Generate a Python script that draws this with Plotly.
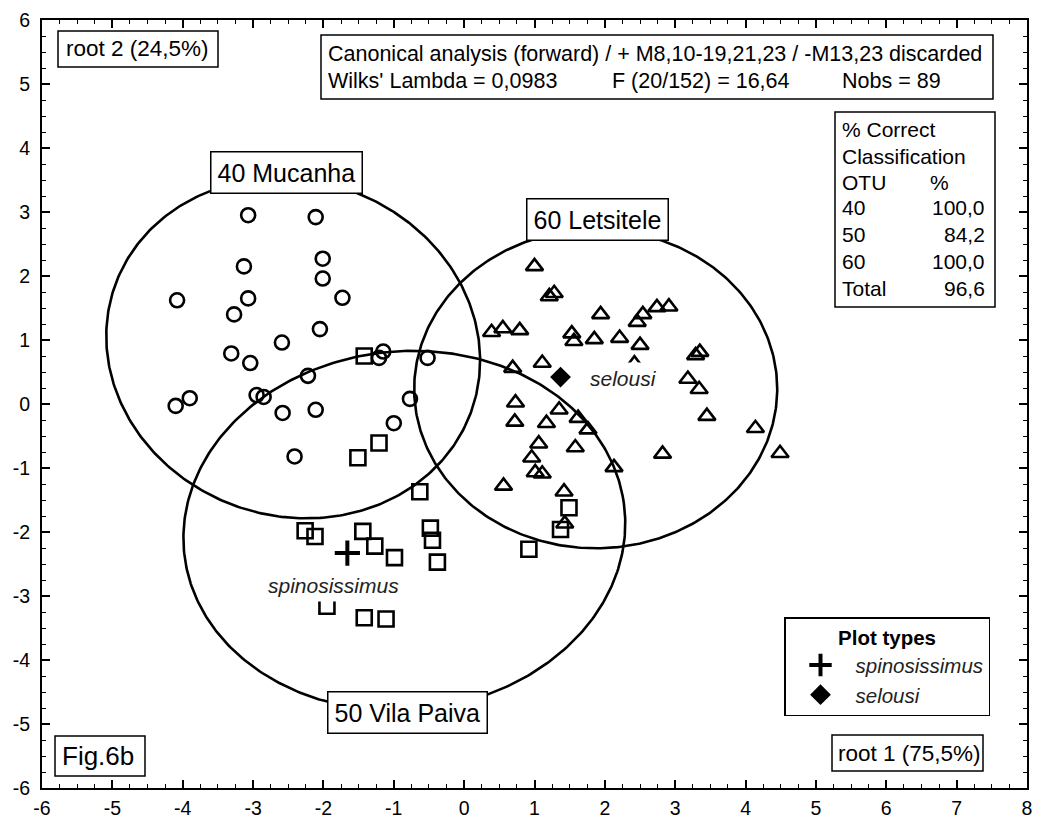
import numpy as np
import plotly.graph_objects as go

# ---------------- data ----------------
mucanha_x = [-3.07, -2.11, -2.01, -3.13, -2.01, -4.08, -3.07, -1.73, -3.27, -2.05, -2.59, -3.31, -3.04,
             -2.22, -3.90, -4.10, -2.95, -2.85, -2.58, -2.11, -2.41, -1.15, -1.21, -0.52, -0.77, -1.00]
mucanha_y = [2.95, 2.92, 2.27, 2.15, 1.96, 1.62, 1.65, 1.66, 1.40, 1.17, 0.96, 0.79, 0.64,
             0.44, 0.09, -0.03, 0.14, 0.11, -0.14, -0.09, -0.82, 0.82, 0.72, 0.72, 0.08, -0.30]

vila_x = [-1.42, -1.21, -1.51, -0.63, -2.26, -2.12, -1.44, -1.27, -0.99, -0.48, -0.45, -0.38,
          -1.95, -1.42, -1.11, 1.49, 1.37, 0.92]
vila_y = [0.75, -0.61, -0.84, -1.37, -1.98, -2.07, -1.99, -2.22, -2.40, -1.94, -2.13, -2.47,
          -3.16, -3.34, -3.36, -1.62, -1.96, -2.27]

lets_x = [1.00, 1.28, 1.21, 0.39, 0.55, 0.79, 1.94, 2.54, 2.46, 2.74, 2.91, 1.53, 1.56, 1.85,
          2.21, 2.50, 1.11, 0.69, 0.73, 0.72, 1.35, 1.17, 1.62, 1.76, 3.35, 3.29, 3.18, 3.34,
          3.45, 4.14, 4.49, 2.82, 1.06, 0.96, 1.01, 1.11, 1.58, 2.13, 0.56, 1.42, 1.43, 2.42]
lets_y = [2.15, 1.73, 1.68, 1.12, 1.18, 1.15, 1.40, 1.40, 1.28, 1.51, 1.52, 1.10, 0.98, 1.01,
          1.03, 0.92, 0.64, 0.56, 0.02, -0.28, -0.09, -0.30, -0.22, -0.40, 0.81, 0.76, 0.39, 0.23,
          -0.19, -0.38, -0.77, -0.78, -0.62, -0.84, -1.07, -1.09, -0.68, -0.99, -1.28, -1.37, -1.87, 0.63]

spin_x, spin_y = [-1.66], [-2.33]
sel_x, sel_y = [1.37], [0.42]

# ellipse parameters per group
group_names = ["40 Mucanha", "50 Vila Paiva", "60 Letsitele"]
ell_cx = [-2.43, -0.85, 1.87]
ell_cy = [0.87, -1.98, 0.235]
ell_a = [2.75, 3.15, 2.58]
ell_b = [2.56, 2.80, 2.49]
ell_angle = [-45, 10, 0]
label_x = [-2.52, -0.80, 1.90]
label_y = [3.62, -4.82, 2.89]

x_ticks = list(range(-6, 9))
x_ticktext = [str(v) for v in x_ticks]
y_ticks = list(range(-6, 7))
y_ticktext = [str(v) for v in y_ticks]

class_rows = [("40", "100,0"), ("50", "84,2"), ("60", "100,0"), ("Total", "96,6")]

# ---------------- layout helpers ----------------
W, H = 1050, 824
PL, PR, PT, PB = 42, 1027, 20, 788
FONT = "Liberation Sans, Arial, sans-serif"


def pxx(x):
    return (x - PL) / (PR - PL)


def pxy(y):
    return (PB - y) / (PB - PT)


fig = go.Figure()

# ellipses
t = np.linspace(0, 2 * np.pi, 400)
for cx, cy, a, b, ang in zip(ell_cx, ell_cy, ell_a, ell_b, ell_angle):
    th = np.deg2rad(ang)
    ex = cx + a * np.cos(th) * np.cos(t) - b * np.sin(th) * np.sin(t)
    ey = cy + a * np.sin(th) * np.cos(t) + b * np.cos(th) * np.sin(t)
    fig.add_trace(go.Scatter(x=ex, y=ey, mode="lines", line=dict(color="black", width=2.6),
                             showlegend=False, hoverinfo="skip"))

mk_line = dict(color="black", width=2.6)
fig.add_trace(go.Scatter(x=mucanha_x, y=mucanha_y, mode="markers", showlegend=False,
                         marker=dict(symbol="circle-open", size=14, color="black", line=mk_line)))
fig.add_trace(go.Scatter(x=vila_x, y=vila_y, mode="markers", showlegend=False,
                         marker=dict(symbol="square-open", size=15, color="black", line=mk_line)))
fig.add_trace(go.Scatter(x=lets_x, y=lets_y, mode="markers", showlegend=False,
                         marker=dict(symbol="triangle-up-open", size=15, color="black", line=mk_line)))
fig.add_trace(go.Scatter(x=spin_x, y=spin_y, mode="markers", name="spinosissimus",
                         marker=dict(symbol="cross-thin-open", size=18, color="black",
                                     line=dict(color="black", width=4))))
fig.add_trace(go.Scatter(x=sel_x, y=sel_y, mode="markers", name="selousi",
                         marker=dict(symbol="diamond", size=16, color="black")))

ann = []
# group labels
for name, lx, ly in zip(group_names, label_x, label_y):
    ann.append(dict(x=lx, y=ly, xref="x", yref="y", text=name, showarrow=False,
                    font=dict(family=FONT, size=25, color="black"), bgcolor="white",
                    bordercolor="black", borderwidth=1.5, borderpad=6))
# species labels (white background hides marker parts, as in the original)
ann.append(dict(x=-1.85, y=-2.83, xref="x", yref="y", text="<i>spinosissimus</i>", showarrow=False,
                font=dict(family=FONT, size=21, color="#222"), bgcolor="white", borderpad=4))
ann.append(dict(x=2.27, y=0.40, xref="x", yref="y", text="<i>selousi</i>", showarrow=False,
                font=dict(family=FONT, size=21, color="#222"), bgcolor="white", borderpad=4))


def txt(text, xpix, ypix, size=21.5, anchor="left", bold=False):
    ann.append(dict(x=pxx(xpix), y=pxy(ypix), xref="paper", yref="paper", text=text,
                    showarrow=False, xanchor=anchor, yanchor="middle",
                    font=dict(family=FONT, size=size, color="black",
                              weight="bold" if bold else "normal")))


shapes = []


def box(x0, y0, x1, y1):
    shapes.append(dict(type="rect", xref="paper", yref="paper", x0=pxx(x0), x1=pxx(x1),
                       y0=pxy(y1), y1=pxy(y0), line=dict(color="black", width=1.5),
                       fillcolor="white", layer="above"))


box(58, 31, 218, 67)
txt("root 2 (24,5%)", 64, 49, size=22.5)

box(321, 35, 993, 99)
txt("Canonical analysis (forward) / + M8,10-19,21,23 / -M13,23 discarded", 326, 54)
txt("Wilks' Lambda = 0,0983", 326, 81)
txt("F (20/152) = 16,64", 610, 81)
txt("Nobs = 89", 840, 81)

box(835, 112, 995, 307)
txt("% Correct", 840, 129, size=21)
txt("Classification", 840, 156, size=21)
txt("OTU", 840, 182, size=21)
txt("%", 928, 182, size=21)
row_y = [208, 235, 261, 288]
for (otu, pct), ry in zip(class_rows, row_y):
    txt(otu, 840, ry, size=21)
    txt(pct, 987, ry, size=21, anchor="right")

box(55, 736, 145, 776)
txt("Fig.6b", 60, 756, size=26)

box(832, 735, 983, 771)
txt("root 1 (75,5%)", 836, 753, size=22.5)

axis_common = dict(showgrid=False, zeroline=False, showline=True, linecolor="black", linewidth=2,
                   mirror="allticks", ticks="inside", ticklen=8, tickwidth=1.5, tickcolor="black",
                   tickfont=dict(family=FONT, size=19.5, color="black"),
                   minor=dict(ticks="inside", ticklen=4, tickwidth=1, tickcolor="black", dtick=0.25,
                              showgrid=False))

fig.update_layout(
    width=W, height=H,
    margin=dict(l=PL, r=W - PR, t=PT, b=H - PB, autoexpand=False),
    paper_bgcolor="white", plot_bgcolor="white",
    font=dict(family=FONT, color="black"),
    xaxis=dict(range=[-6, 8], tickvals=x_ticks, ticktext=x_ticktext, ticklabelstandoff=2,
               automargin=False, **axis_common),
    yaxis=dict(range=[-6, 6], tickvals=y_ticks, ticktext=y_ticktext, ticklabelstandoff=6,
               automargin=False, **axis_common),
    annotations=ann,
    shapes=shapes,
    showlegend=True,
    legend=dict(x=pxx(784), y=pxy(617), xanchor="left", yanchor="top",
                bgcolor="white", bordercolor="black", borderwidth=1.5,
                font=dict(family=FONT, size=20.5, color="#222", style="italic"),
                title=dict(text="Plot types", side="top center",
                           font=dict(family=FONT, size=20.5, color="black", weight="bold",
                                     style="normal")),
                itemwidth=60, tracegroupgap=0),
)

fig.write_html("out.html")
